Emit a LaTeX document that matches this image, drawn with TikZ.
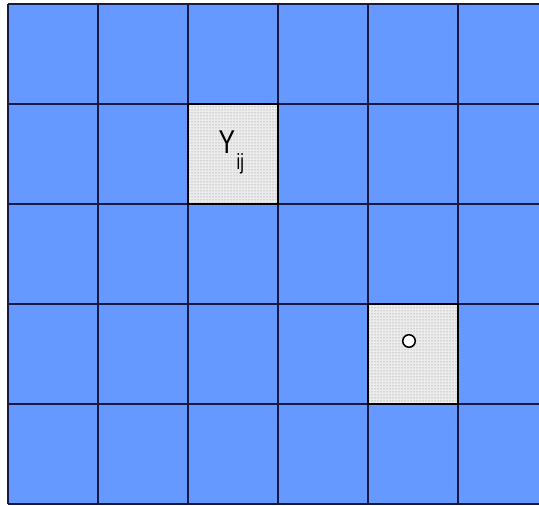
\documentclass[tikz,border=0pt]{standalone}
\usepackage{fontspec}
\setmainfont{Liberation Sans}
\usetikzlibrary{patterns}
\definecolor{zellblau}{RGB}{102,153,255}
\definecolor{gitter}{RGB}{25,25,70}

\begin{document}
\begin{tikzpicture}[x=1pt, y=1pt,
				linie/.style={gitter, line width=1.4pt},
				zelle/.style={draw=black, line width=1.8pt, preaction={fill=gray!15}, preaction={pattern=dots, pattern color=gray}, minimum width=90pt, minimum height=100pt, inner sep=0pt, outer sep=0pt},
				schrift/.style={inner sep=0pt, anchor=base west, xscale=0.75}]
				\useasboundingbox (0,0) rectangle (539,506);
				%Hintergrund
				\fill[white] (0,0) rectangle (539,506);
				\fill[zellblau] (8,2) rectangle (539,502);
				%Raster zeichnen
				\foreach \x in {8,98,188,278,368,458} \draw[linie] (\x,2) -- (\x,502);
				\foreach \y in {2,102,202,302,402,502} \draw[linie] (8,\y) -- (539,\y);
				%graue Zellen
				\node[zelle] (zelleY) at (233,352) {};
				\node[zelle] (zelleO) at (413,152) {};
				%Beschriftung
				\node[schrift, font=\fontsize{33}{36}\selectfont] (ypsilon) at (218.5,352) {Y};
				\node[schrift, font=\fontsize{22}{24}\selectfont] (index) at (236.5,336) {ij};
				%Punkt
				\node[circle, draw=black, fill=white, line width=1.5pt, minimum size=12.5pt, inner sep=0pt] (punkt) at (409,165) {};
\end{tikzpicture}
\end{document}
